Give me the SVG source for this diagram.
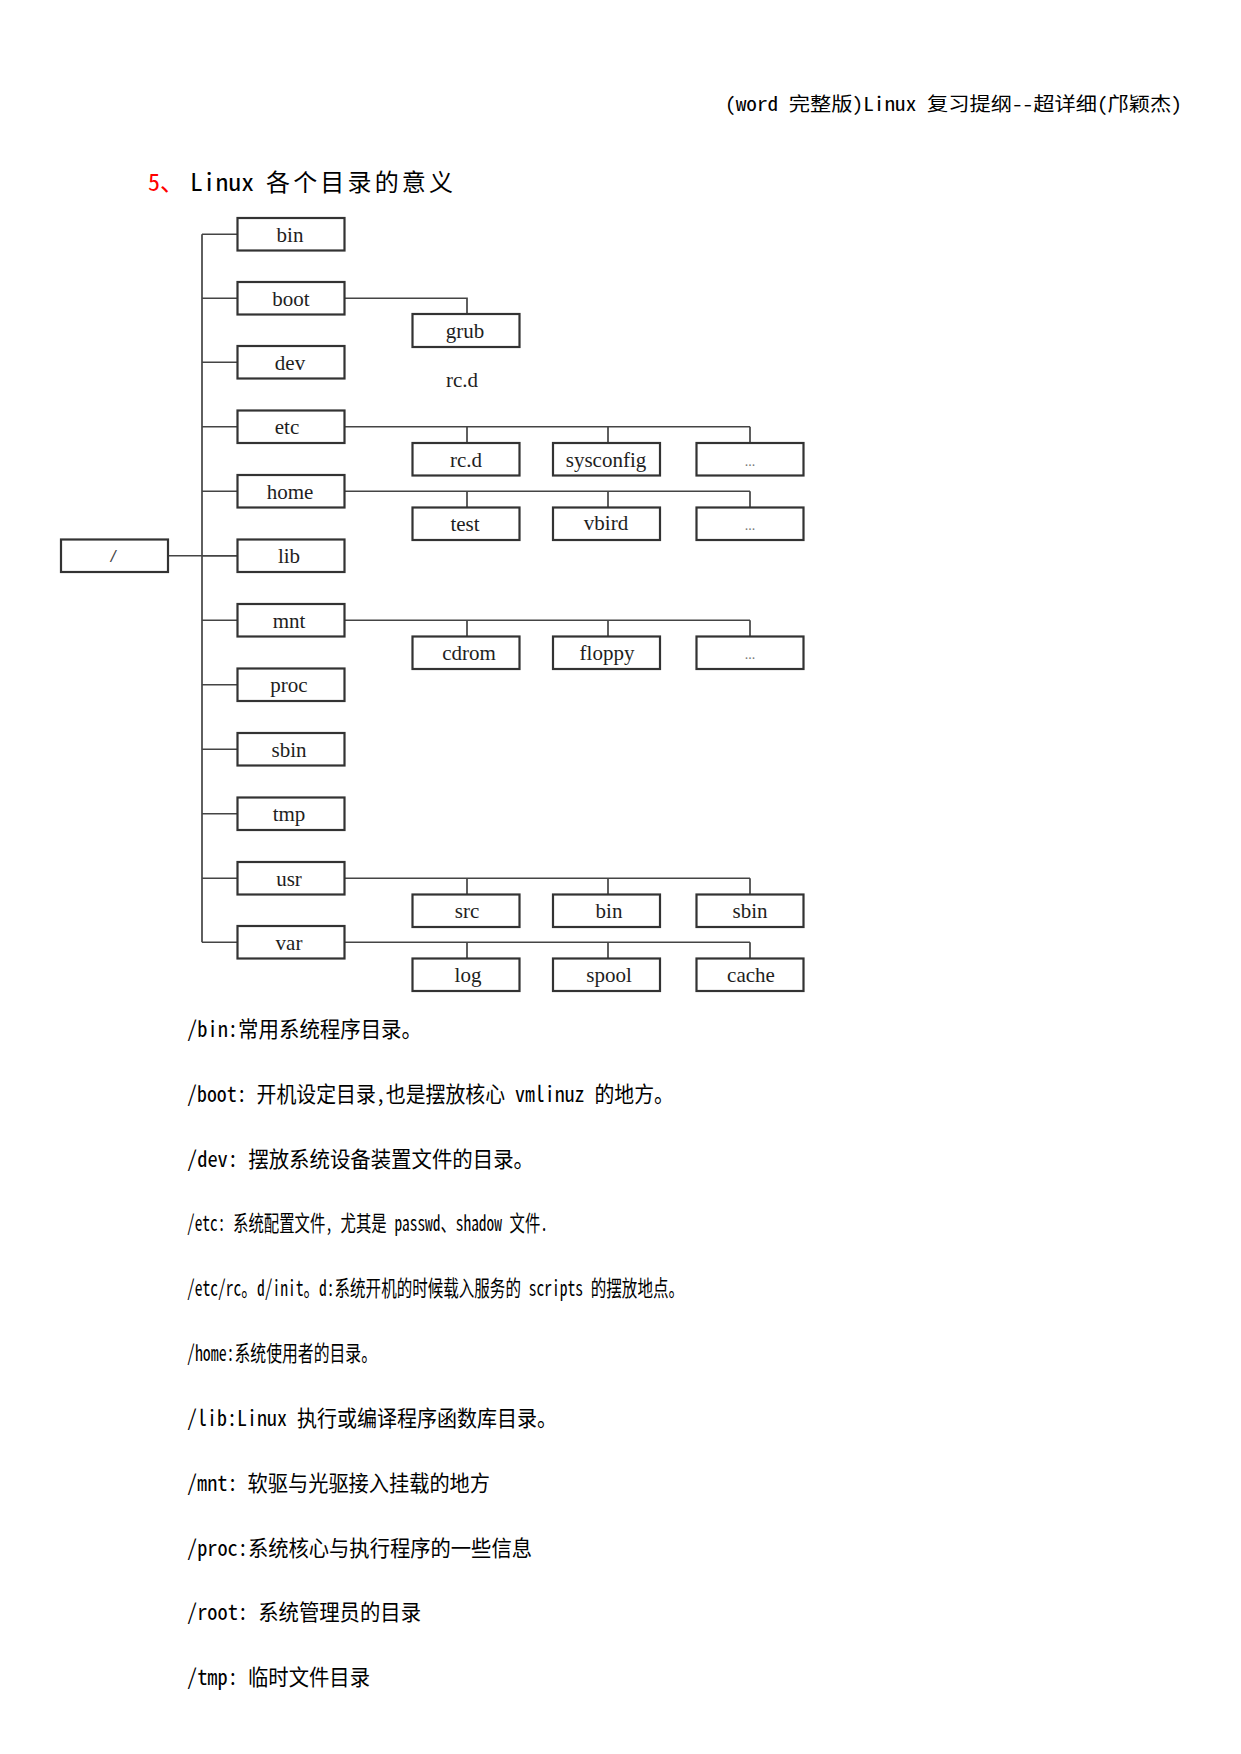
<svg xmlns="http://www.w3.org/2000/svg" width="1241" height="1754" viewBox="0 0 1241 1754">
<style>
.bg{fill:#ffffff}
.box{fill:#ffffff;stroke:#333333;stroke-width:2.2}
.ln{fill:none;stroke:#444444;stroke-width:1.7}
.lbl{font-family:"Liberation Serif","Times New Roman",serif;font-size:21px;fill:#1e1e1e;text-anchor:middle}
.dots{font-family:"Liberation Serif",serif;font-size:14px;fill:#777;text-anchor:middle}
.slash{font-family:"Liberation Sans",sans-serif;font-size:17px;fill:#444;text-anchor:middle;font-style:italic}
.cn{font-family:"Noto Sans Mono CJK SC","Liberation Mono","Noto Sans CJK SC",monospace;fill:#000}
.body{font-size:22px}
</style>
<rect class="bg" x="0" y="0" width="1241" height="1754"/>

<text class="cn" x="725" y="111" font-size="19" textLength="457" lengthAdjust="spacingAndGlyphs">(word 完整版)Linux 复习提纲--超详细(邝颖杰)</text>

<text class="cn" x="148" y="191" font-size="24" style="fill:#ff0000">5、</text>
<text class="cn" x="190" y="191" font-size="24" textLength="64" lengthAdjust="spacingAndGlyphs">Linux</text>
<text class="cn" x="266" y="191" font-size="24" textLength="187" lengthAdjust="spacing">各个目录的意义</text>

<g id="connectors">
  <path class="ln" d="M202 234.25 V942.25"/>
  <path class="ln" d="M168 555.75 H237.5"/>
  <path class="ln" d="M202 234.25 H237.5 M202 298.25 H237.5 M202 362.25 H237.5 M202 426.75 H237.5 M202 491.25 H237.5 M202 555.75 H237.5 M202 620.25 H237.5 M202 684.75 H237.5 M202 749.25 H237.5 M202 813.75 H237.5 M202 878.25 H237.5 M202 942.25 H237.5"/>
  <path class="ln" d="M344.5 298.25 H467 V314"/>
  <path class="ln" d="M344.5 426.75 H750 M467 426.75 V443 M608 426.75 V443 M750 426.75 V443"/>
  <path class="ln" d="M344.5 491.25 H750 M467 491.25 V507.5 M608 491.25 V507.5 M750 491.25 V507.5"/>
  <path class="ln" d="M344.5 620.25 H750 M467 620.25 V636.5 M608 620.25 V636.5 M750 620.25 V636.5"/>
  <path class="ln" d="M344.5 878.25 H750 M467 878.25 V894.5 M608 878.25 V894.5 M750 878.25 V894.5"/>
  <path class="ln" d="M344.5 942.25 H750 M467 942.25 V958.5 M608 942.25 V958.5 M750 942.25 V958.5"/>
</g>

<g id="node-root"><rect class="box" x="61" y="539.5" width="107" height="32.5"/><text class="slash" x="113" y="562">/</text></g>

<g id="node-bin"><rect class="box" x="237.5" y="218" width="107" height="32.5"/><text class="lbl" x="290" y="241.5">bin</text></g>
<g id="node-boot"><rect class="box" x="237.5" y="282" width="107" height="32.5"/><text class="lbl" x="291" y="305.5">boot</text></g>
<g id="node-dev"><rect class="box" x="237.5" y="346" width="107" height="32.5"/><text class="lbl" x="290" y="369.5">dev</text></g>
<g id="node-etc"><rect class="box" x="237.5" y="410.5" width="107" height="32.5"/><text class="lbl" x="287" y="434">etc</text></g>
<g id="node-home"><rect class="box" x="237.5" y="475" width="107" height="32.5"/><text class="lbl" x="290" y="498.5">home</text></g>
<g id="node-lib"><rect class="box" x="237.5" y="539.5" width="107" height="32.5"/><text class="lbl" x="289" y="563">lib</text></g>
<g id="node-mnt"><rect class="box" x="237.5" y="604" width="107" height="32.5"/><text class="lbl" x="289" y="627.5">mnt</text></g>
<g id="node-proc"><rect class="box" x="237.5" y="668.5" width="107" height="32.5"/><text class="lbl" x="289" y="692">proc</text></g>
<g id="node-sbin"><rect class="box" x="237.5" y="733" width="107" height="32.5"/><text class="lbl" x="289" y="756.5">sbin</text></g>
<g id="node-tmp"><rect class="box" x="237.5" y="797.5" width="107" height="32.5"/><text class="lbl" x="289" y="821">tmp</text></g>
<g id="node-usr"><rect class="box" x="237.5" y="862" width="107" height="32.5"/><text class="lbl" x="289" y="885.5">usr</text></g>
<g id="node-var"><rect class="box" x="237.5" y="926" width="107" height="32.5"/><text class="lbl" x="289" y="949.5">var</text></g>

<g id="node-grub"><rect class="box" x="412.5" y="314" width="107" height="33"/><text class="lbl" x="465" y="337.5">grub</text></g>
<g id="label-rcd"><text class="lbl" x="462" y="387">rc.d</text></g>

<g id="node-etc-rcd"><rect class="box" x="412.5" y="443" width="107" height="32.5"/><text class="lbl" x="466" y="466.5">rc.d</text></g>
<g id="node-etc-sysconfig"><rect class="box" x="553" y="443" width="107" height="32.5"/><text class="lbl" x="606" y="466.5">sysconfig</text></g>
<g id="node-etc-more"><rect class="box" x="696.5" y="443" width="107" height="32.5"/><text class="dots" x="750" y="466">...</text></g>

<g id="node-home-test"><rect class="box" x="412.5" y="507.5" width="107" height="32.5"/><text class="lbl" x="465" y="531">test</text></g>
<g id="node-home-vbird"><rect class="box" x="553" y="507.5" width="107" height="32.5"/><text class="lbl" x="606" y="530">vbird</text></g>
<g id="node-home-more"><rect class="box" x="696.5" y="507.5" width="107" height="32.5"/><text class="dots" x="750" y="530">...</text></g>

<g id="node-mnt-cdrom"><rect class="box" x="412.5" y="636.5" width="107" height="32.5"/><text class="lbl" x="469" y="660">cdrom</text></g>
<g id="node-mnt-floppy"><rect class="box" x="553" y="636.5" width="107" height="32.5"/><text class="lbl" x="607" y="660">floppy</text></g>
<g id="node-mnt-more"><rect class="box" x="696.5" y="636.5" width="107" height="32.5"/><text class="dots" x="750" y="659">...</text></g>

<g id="node-usr-src"><rect class="box" x="412.5" y="894.5" width="107" height="32.5"/><text class="lbl" x="467" y="918">src</text></g>
<g id="node-usr-bin"><rect class="box" x="553" y="894.5" width="107" height="32.5"/><text class="lbl" x="609" y="918">bin</text></g>
<g id="node-usr-sbin"><rect class="box" x="696.5" y="894.5" width="107" height="32.5"/><text class="lbl" x="750" y="918">sbin</text></g>

<g id="node-var-log"><rect class="box" x="412.5" y="958.5" width="107" height="32.5"/><text class="lbl" x="468" y="982">log</text></g>
<g id="node-var-spool"><rect class="box" x="553" y="958.5" width="107" height="32.5"/><text class="lbl" x="609" y="982">spool</text></g>
<g id="node-var-cache"><rect class="box" x="696.5" y="958.5" width="107" height="32.5"/><text class="lbl" x="751" y="982">cache</text></g>

<g id="descriptions">
<text class="cn body" x="187" y="1037" textLength="235" lengthAdjust="spacingAndGlyphs">/bin:常用系统程序目录。</text>
<text class="cn body" x="187" y="1102" textLength="487" lengthAdjust="spacingAndGlyphs">/boot: 开机设定目录,也是摆放核心 vmlinuz 的地方。</text>
<text class="cn body" x="187" y="1167" textLength="347" lengthAdjust="spacingAndGlyphs">/dev: 摆放系统设备装置文件的目录。</text>
<text class="cn body" x="187" y="1231" textLength="361" lengthAdjust="spacingAndGlyphs">/etc: 系统配置文件, 尤其是 passwd、shadow 文件.</text>
<text class="cn body" x="187" y="1296" textLength="497" lengthAdjust="spacingAndGlyphs">/etc/rc。d/init。d:系统开机的时候载入服务的 scripts 的摆放地点。</text>
<text class="cn body" x="187" y="1361" textLength="190" lengthAdjust="spacingAndGlyphs">/home:系统使用者的目录。</text>
<text class="cn body" x="187" y="1426" textLength="370" lengthAdjust="spacingAndGlyphs">/lib:Linux 执行或编译程序函数库目录。</text>
<text class="cn body" x="187" y="1491" textLength="303" lengthAdjust="spacingAndGlyphs">/mnt: 软驱与光驱接入挂载的地方</text>
<text class="cn body" x="187" y="1556" textLength="345" lengthAdjust="spacingAndGlyphs">/proc:系统核心与执行程序的一些信息</text>
<text class="cn body" x="187" y="1620" textLength="234" lengthAdjust="spacingAndGlyphs">/root: 系统管理员的目录</text>
<text class="cn body" x="187" y="1685" textLength="183" lengthAdjust="spacingAndGlyphs">/tmp: 临时文件目录</text>
</g>
</svg>
